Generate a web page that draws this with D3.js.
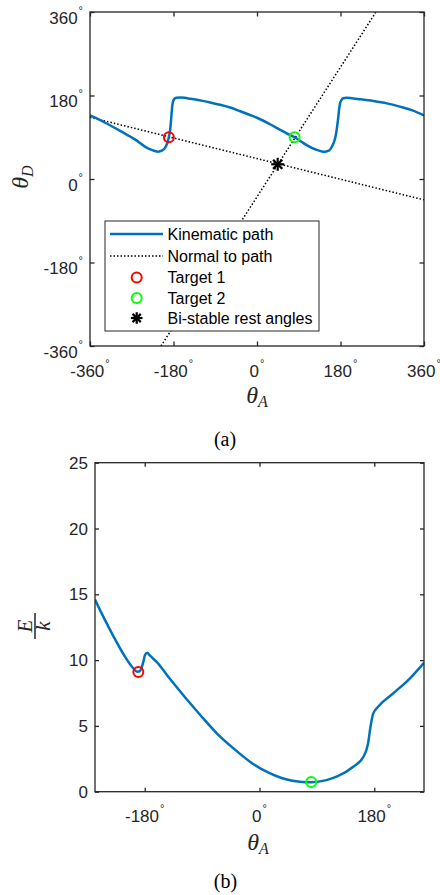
<!DOCTYPE html>
<html>
<head>
<meta charset="utf-8">
<script src="https://cdn.jsdelivr.net/npm/d3@7"></script>
<style>
body { margin: 0; background: #fff; }
svg text { font-family: "Liberation Sans", Arial, sans-serif; fill: #262626; }
svg text.math { font-family: "Liberation Serif", "Times New Roman", serif; font-style: italic; fill: #262626; }
svg text.cap { font-family: "Liberation Serif", "Times New Roman", serif; fill: #000; }
</style>
</head>
<body>
<svg width="440" height="895"></svg>
<script>
// ---- data ----
// (a) kinematic path, theta_A vs theta_D (degrees)
var pathA = [-360, -340, -321, -292, -264, -235, -222, -213, -205, -199, -194, -190, -187, -185, -183, -181, -178, -174,
  -165, -156, -144, -120, -101, -80, -58, -36, -15, 0, 28, 50, 64, 81, 95, 107, 128, 140, 147, 155, 161, 166,
  170, 173, 175, 177, 179, 182, 186, 193, 220, 251, 280, 308, 335, 360];
var pathD = [137, 128, 118, 102, 86, 66, 61, 59, 61, 66, 76, 90, 108, 130, 155, 167, 173, 175,
  175.5, 175, 173, 169, 165, 160, 154, 146, 138, 132, 118, 106, 98.5, 90, 81, 73, 63, 59.5, 59, 61, 69, 80,
  95, 115, 131, 150, 163, 170, 174, 175, 172, 168, 163, 156, 148, 137];

// normals to the path (end points)
var normal1A = [-360, 360];
var normal1D = [133, -45];
var normal2A = [-207, 256.5];
var normal2D = [-360, 360];

var target1 = [-190, 90];
var target2 = [81, 90];
var restAngle = [44.6, 31.7];

// (b) energy E/k vs theta_A
var energyA = [-258, -245, -229, -214, -198, -192, -188, -185, -182, -179.5, -176, -172, -161, -140, -93,
  -67, -41, -15, 11, 37, 63, 82, 105, 121, 147, 163, 170, 174, 178, 186, 210, 236, 258];
var energyE = [14.6, 13.3, 11.8, 10.5, 9.38, 9.12, 9.15, 9.4, 9.9, 10.4, 10.55, 10.35, 9.85, 8.54, 5.83,
  4.44, 3.3, 2.28, 1.52, 1.0, 0.76, 0.72, 0.88, 1.14, 1.9, 2.66, 3.6, 4.9, 5.9, 6.46, 7.48, 8.62, 9.8];
var energyT1 = [-190, 9.1];
var energyT2 = [81, 0.74];

var ticksA = [-360, -180, 0, 180, 360];
var ticksD = [-360, -180, 0, 180, 360];
var ticksBx = [-180, 0, 180];
var ticksBy = [0, 5, 10, 15, 20, 25];

var legendLabels = ["Kinematic path", "Normal to path", "Target 1", "Target 2", "Bi-stable rest angles"];

var blue = "#0072BD", axisColor = "#262626";
var svg = d3.select("svg");

// ---------------- helpers ----------------
function drawStar(g, cx, cy, r) {
  var s = g.append("g").attr("transform", "translate(" + cx + "," + cy + ")");
  [0, 45, 90, 135].forEach(function(a) {
    var rad = a * Math.PI / 180;
    s.append("line")
      .attr("x1", -r * Math.cos(rad)).attr("y1", -r * Math.sin(rad))
      .attr("x2", r * Math.cos(rad)).attr("y2", r * Math.sin(rad))
      .attr("stroke", "#000").attr("stroke-width", 2.2);
  });
}

function degLabel(sel) {
  // number followed by small raised degree circle
  sel.text(function(d) { return d; })
    .append("tspan").attr("dx", 1).attr("dy", -10).style("font-size", "11px").text("\u00b0");
}

function frame(g, x, y) {
  g.append("rect")
    .attr("x", x.range()[0]).attr("y", y.range()[1])
    .attr("width", x.range()[1] - x.range()[0]).attr("height", y.range()[0] - y.range()[1])
    .attr("fill", "none").attr("stroke", axisColor).attr("stroke-width", 1.3);
}

function tickMarks(g, x, y, xt, yt, len) {
  g.append("g").attr("transform", "translate(0," + y.range()[0] + ")")
    .call(d3.axisBottom(x).tickValues(xt).tickSizeInner(-len).tickSizeOuter(0).tickFormat(""));
  g.append("g").attr("transform", "translate(0," + y.range()[1] + ")")
    .call(d3.axisTop(x).tickValues(xt).tickSizeInner(-len).tickSizeOuter(0).tickFormat(""));
  g.append("g").attr("transform", "translate(" + x.range()[0] + ",0)")
    .call(d3.axisLeft(y).tickValues(yt).tickSizeInner(-len).tickSizeOuter(0).tickFormat(""));
  g.append("g").attr("transform", "translate(" + x.range()[1] + ",0)")
    .call(d3.axisRight(y).tickValues(yt).tickSizeInner(-len).tickSizeOuter(0).tickFormat(""));
  g.selectAll(".domain").remove();
  g.selectAll(".tick line").attr("stroke", axisColor).attr("stroke-width", 1.3);
}

// ---------------- (a) ----------------
var xA = d3.scaleLinear().domain([-360, 360]).range([90, 424]);
var yA = d3.scaleLinear().domain([-360, 360]).range([346, 12]);

var gA = svg.append("g");
gA.append("clipPath").attr("id", "clipA").append("rect")
  .attr("x", 90).attr("y", 12).attr("width", 334).attr("height", 334);

var plotA = gA.append("g").attr("clip-path", "url(#clipA)");

var lineA = d3.line().x(function(d) { return xA(d[0]); }).y(function(d) { return yA(d[1]); });

plotA.append("path")
  .attr("d", lineA(d3.zip(normal1A, normal1D)))
  .attr("fill", "none").attr("stroke", "#000").attr("stroke-width", 1.5).attr("stroke-dasharray", "1.5,2");
plotA.append("path")
  .attr("d", lineA(d3.zip(normal2A, normal2D)))
  .attr("fill", "none").attr("stroke", "#000").attr("stroke-width", 1.5).attr("stroke-dasharray", "1.5,2");

plotA.append("path")
  .attr("d", lineA.curve(d3.curveMonotoneX)(d3.zip(pathA, pathD)))
  .attr("fill", "none").attr("stroke", blue).attr("stroke-width", 2.5);

gA.append("circle").attr("cx", xA(target1[0])).attr("cy", yA(target1[1])).attr("r", 5)
  .attr("fill", "none").attr("stroke", "#f00").attr("stroke-width", 2);
gA.append("circle").attr("cx", xA(target2[0])).attr("cy", yA(target2[1])).attr("r", 5)
  .attr("fill", "none").attr("stroke", "#0f0").attr("stroke-width", 2);
drawStar(gA, xA(restAngle[0]), yA(restAngle[1]), 6.5);

frame(gA, xA, yA);
tickMarks(gA, xA, yA, ticksA, ticksD, 4.5);

gA.selectAll(".xlab").data(ticksA).enter().append("text")
  .attr("x", function(d) { return xA(d); }).attr("y", 377)
  .attr("text-anchor", "middle").style("font-size", "17px").call(degLabel);
gA.selectAll(".ylab").data(ticksD).enter().append("text")
  .attr("x", 83).attr("y", function(d) { return yA(d) + 11.5; })
  .attr("text-anchor", "end").style("font-size", "17px").call(degLabel);

// axis titles
var tD = gA.append("text").attr("class", "math")
  .attr("transform", "translate(28,177) rotate(-90)").attr("text-anchor", "middle")
  .style("font-size", "24px").text("\u03b8");
tD.append("tspan").attr("dy", 5).style("font-size", "16px").text("D");

var tA = gA.append("text").attr("class", "math")
  .attr("x", 257).attr("y", 403).attr("text-anchor", "middle")
  .style("font-size", "24px").text("\u03b8");
tA.append("tspan").attr("dy", 4).style("font-size", "16px").text("A");

// legend
var leg = gA.append("g");
leg.append("rect").attr("x", 105).attr("y", 221).attr("width", 214).attr("height", 110)
  .attr("fill", "#fff").attr("stroke", axisColor).attr("stroke-width", 1);
var rowY = [234, 256, 277.5, 298, 318];
leg.selectAll(".lt").data(legendLabels).enter().append("text")
  .attr("x", 167.5).attr("y", function(d, i) { return rowY[i] + 5.5; })
  .style("font-size", "16px").style("fill", "#000").text(function(d) { return d; });
leg.append("line").attr("x1", 110).attr("x2", 163).attr("y1", rowY[0]).attr("y2", rowY[0])
  .attr("stroke", blue).attr("stroke-width", 2.5);
leg.append("line").attr("x1", 110).attr("x2", 163).attr("y1", rowY[1]).attr("y2", rowY[1])
  .attr("stroke", "#000").attr("stroke-width", 1.5).attr("stroke-dasharray", "1.5,2");
leg.append("circle").attr("cx", 136.7).attr("cy", rowY[2]).attr("r", 5)
  .attr("fill", "none").attr("stroke", "#f00").attr("stroke-width", 2);
leg.append("circle").attr("cx", 136.7).attr("cy", rowY[3]).attr("r", 5)
  .attr("fill", "none").attr("stroke", "#0f0").attr("stroke-width", 2);
drawStar(leg, 136.7, rowY[4], 5.8);

svg.append("text").attr("class", "cap").attr("x", 225).attr("y", 446)
  .attr("text-anchor", "middle").style("font-size", "20px").text("(a)");

// ---------------- (b) ----------------
var xB = d3.scaleLinear().domain([-258, 258]).range([95, 424]);
var yB = d3.scaleLinear().domain([0, 25]).range([791.7, 462.7]);

var gB = svg.append("g");
gB.append("clipPath").attr("id", "clipB").append("rect")
  .attr("x", 95).attr("y", 462.7).attr("width", 329).attr("height", 329);

var lineB = d3.line().curve(d3.curveMonotoneX)
  .x(function(d) { return xB(d[0]); }).y(function(d) { return yB(d[1]); });

gB.append("g").attr("clip-path", "url(#clipB)").append("path")
  .attr("d", lineB(d3.zip(energyA, energyE)))
  .attr("fill", "none").attr("stroke", blue).attr("stroke-width", 2.5);

gB.append("circle").attr("cx", xB(energyT1[0])).attr("cy", yB(energyT1[1])).attr("r", 5)
  .attr("fill", "none").attr("stroke", "#f00").attr("stroke-width", 2);
gB.append("circle").attr("cx", xB(energyT2[0])).attr("cy", yB(energyT2[1])).attr("r", 5)
  .attr("fill", "none").attr("stroke", "#0f0").attr("stroke-width", 2);

frame(gB, xB, yB);
tickMarks(gB, xB, yB, ticksBx, ticksBy, 4);

gB.selectAll(".xlab").data(ticksBx).enter().append("text")
  .attr("x", function(d) { return xB(d); }).attr("y", 822)
  .attr("text-anchor", "middle").style("font-size", "17px").call(degLabel);
gB.selectAll(".ylab").data(ticksBy).enter().append("text")
  .attr("x", 88).attr("y", function(d) { return yB(d) + 6; })
  .attr("text-anchor", "end").style("font-size", "17px").text(function(d) { return d; });

var tA2 = gB.append("text").attr("class", "math")
  .attr("x", 258).attr("y", 850).attr("text-anchor", "middle")
  .style("font-size", "24px").text("\u03b8");
tA2.append("tspan").attr("dy", 4).style("font-size", "16px").text("A");

// E / k fraction, rotated
var fr = gB.append("g").attr("transform", "translate(35,626) rotate(-90)");
fr.append("text").attr("class", "math").attr("x", 0).attr("y", -3)
  .attr("text-anchor", "middle").style("font-size", "21px").text("E");
fr.append("line").attr("x1", -13).attr("x2", 13).attr("y1", 0).attr("y2", 0)
  .attr("stroke", axisColor).attr("stroke-width", 1.5);
fr.append("text").attr("class", "math").attr("x", 0).attr("y", 14.5)
  .attr("text-anchor", "middle").style("font-size", "21px").text("k");

svg.append("text").attr("class", "cap").attr("x", 225.5).attr("y", 888)
  .attr("text-anchor", "middle").style("font-size", "20px").text("(b)");
</script>
</body>
</html>
